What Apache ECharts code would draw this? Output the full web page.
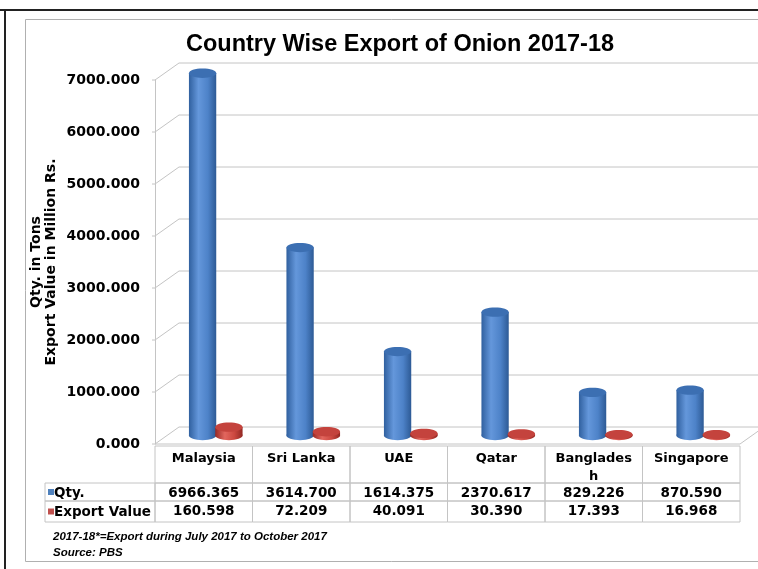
<!DOCTYPE html>
<html>
<head>
<meta charset="utf-8">
<script src="https://cdn.jsdelivr.net/npm/echarts@6/dist/echarts.min.js"></script>
<style>
html,body{margin:0;padding:0;background:#fff;}
#chart{width:758px;height:569px;}
</style>
</head>
<body>
<div id="chart"></div>
<script>
const categories = ['Malaysia', 'Sri Lanka', 'UAE', 'Qatar', 'Bangladesh', 'Singapore'];
const qty = [6966.365, 3614.700, 1614.375, 2370.617, 829.226, 870.590];
const exportValue = [160.598, 72.209, 40.091, 30.390, 17.393, 16.968];
const seriesNames = ['Qty.', 'Export Value'];
const yTicks = [0, 1000, 2000, 3000, 4000, 5000, 6000, 7000];
const titleText = 'Country Wise Export of Onion 2017-18';
const yAxisTitle = 'Qty. in Tons\nExport Value in Million Rs.';
const footnotes = ['2017-18*=Export during July 2017 to October 2017', 'Source: PBS'];

const FONT = 'DejaVu Sans';
const DX = 24, DY = -17; // 3D depth offset
const GRID_COLOR = '#c4c4c4';

const palettes = [
  {body: ['#30609f', '#6497db', '#4d82c8', '#2d5a95'], top: '#3c6fb2', legend: '#4f81bd'},
  {body: ['#982a25', '#e2665e', '#cc4840', '#922823'], top: '#c4433d', legend: '#c0504d'}
];

function cylinderItem(k) {
  return function (params, api) {
    const i = api.value(0);
    const v = api.value(1);
    const top = api.coord([i, v]);
    const base = api.coord([i, 0]);
    const band = api.size([1, 0])[0];
    const w = band * 0.28;
    const cx = top[0] + DX / 2 + (k === 0 ? -0.135 : 0.135) * band;
    const ty = top[1] + DY / 2;
    const by = base[1] + DY / 2;
    const ry = w * 0.17;
    const p = palettes[k];
    const grad = new echarts.graphic.LinearGradient(0, 0, 1, 0, [
      {offset: 0, color: p.body[0]},
      {offset: 0.35, color: p.body[1]},
      {offset: 0.7, color: p.body[2]},
      {offset: 1, color: p.body[3]}
    ]);
    return {
      type: 'group',
      children: [
        {type: 'ellipse', shape: {cx: cx, cy: by, rx: w / 2, ry: ry}, style: {fill: grad}},
        {type: 'rect', shape: {x: cx - w / 2, y: ty, width: w, height: Math.max(0, by - ty)}, style: {fill: grad}},
        {type: 'ellipse', shape: {cx: cx, cy: ty, rx: w / 2, ry: ry}, style: {fill: p.top}}
      ]
    };
  };
}

function wallItem(params, api) {
  const v = api.value(0);
  const cs = params.coordSys;
  const y = api.coord([0, v])[1];
  const children = [
    {type: 'polyline', shape: {points: [[cs.x - 3, y], [cs.x, y], [cs.x + DX, y + DY], [cs.x + cs.width + DX, y + DY]]},
     style: {stroke: GRID_COLOR, lineWidth: 1, fill: null}}
  ];
  if (v === 0) {
    children.push({type: 'polyline', shape: {points: [[cs.x, y], [cs.x + cs.width, y], [cs.x + cs.width + DX, y + DY]]},
      style: {stroke: GRID_COLOR, lineWidth: 1, fill: null}});
  }
  return {type: 'group', children: children};
}

function tableItem(params, api) {
  const i = api.value(0);
  const cs = params.coordSys;
  const center = api.coord([i, 0])[0];
  const band = api.size([1, 0])[0];
  const x0 = center - band / 2;
  const h1 = 37, h2 = 18, h3 = cs.height - h1 - h2;
  const y1 = cs.y, y2 = cs.y + h1, y3 = cs.y + h1 + h2;
  const lineStyle = {stroke: GRID_COLOR, lineWidth: 1, fill: null};
  const txt = {fill: '#000', fontFamily: FONT, fontWeight: 'bold', fontSize: 13.5, align: 'center', verticalAlign: 'middle'};
  const children = [
    {type: 'rect', shape: {x: x0, y: y1, width: band, height: h1}, style: lineStyle},
    {type: 'rect', shape: {x: x0, y: y2, width: band, height: h2}, style: lineStyle},
    {type: 'rect', shape: {x: x0, y: y3, width: band, height: h3}, style: lineStyle},
    {type: 'text', x: center, y: y1 + 4, style: Object.assign({}, txt, {text: categories[i], fontSize: 13, verticalAlign: 'top', width: band - 14, overflow: 'breakAll', lineHeight: 18})},
    {type: 'text', x: center, y: y2 + h2 / 2 + 1, style: Object.assign({}, txt, {text: qty[i].toFixed(3)})},
    {type: 'text', x: center, y: y3 + h3 / 2, style: Object.assign({}, txt, {text: exportValue[i].toFixed(3)})}
  ];
  if (i === 0) {
    const lw = 110;
    const rows = [[y2, h2], [y3, h3]];
    rows.forEach(function (r, k) {
      children.push({type: 'rect', shape: {x: x0 - lw, y: r[0], width: lw, height: r[1]}, style: lineStyle});
      children.push({type: 'rect', shape: {x: x0 - lw + 3, y: r[0] + r[1] / 2 - 3, width: 6, height: 6}, style: {fill: palettes[k].legend}});
      children.push({type: 'text', x: x0 - lw + 9, y: r[0] + r[1] / 2 + 1,
        style: Object.assign({}, txt, {text: seriesNames[k], align: 'left', fontSize: 13.5})});
    });
  }
  return {type: 'group', children: children};
}

const chart = echarts.init(document.getElementById('chart'), null, {renderer: 'canvas'});
chart.setOption({
  backgroundColor: '#fff',
  animation: false,
  title: {
    text: titleText, left: 181, top: 28,
    textStyle: {fontFamily: 'Liberation Sans', fontWeight: 'bold', fontSize: 23.5, color: '#000'}
  },
  graphic: [
    {type: 'line', shape: {x1: 0, y1: 10, x2: 758, y2: 10}, style: {stroke: '#222', lineWidth: 2}, z: 100},
    {type: 'line', shape: {x1: 5, y1: 10, x2: 5, y2: 569}, style: {stroke: '#222', lineWidth: 2}, z: 100},
    {type: 'polyline', shape: {points: [[758, 19.5], [25.5, 19.5], [25.5, 561.5], [758, 561.5]]}, style: {stroke: '#b0b0b0', lineWidth: 1, fill: null}, z: 100},
    {type: 'text', left: 53, top: 531, style: {text: footnotes[0], font: 'italic bold 11.5px "Liberation Sans"', fill: '#000'}},
    {type: 'text', left: 53, top: 547, style: {text: footnotes[1], font: 'italic bold 11.5px "Liberation Sans"', fill: '#000'}}
  ],
  grid: [
    {left: 155, right: 18, top: 80, bottom: 125},
    {left: 155, right: 18, top: 446, bottom: 47}
  ],
  xAxis: [
    {type: 'category', gridIndex: 0, data: categories, axisLine: {show: false}, axisTick: {show: false}, axisLabel: {show: false}},
    {type: 'category', gridIndex: 1, data: categories, show: false}
  ],
  yAxis: [
    {type: 'value', gridIndex: 0, min: 0, max: 7000, interval: 1000,
     axisLine: {show: true, lineStyle: {color: GRID_COLOR}}, axisTick: {show: false}, splitLine: {show: false},
     axisLabel: {formatter: function (v) { return v.toFixed(3); }, fontFamily: FONT, fontWeight: 'bold', fontSize: 14, color: '#000', margin: 15},
     name: yAxisTitle, nameLocation: 'middle', nameRotate: 90, nameGap: 96, nameMoveOverlap: false,
     nameTextStyle: {fontFamily: FONT, fontWeight: 'bold', fontSize: 14, color: '#000', lineHeight: 15}},
    {type: 'value', gridIndex: 1, min: 0, max: 1, show: false}
  ],
  series: [
    {type: 'custom', name: 'wall', xAxisIndex: 0, yAxisIndex: 0, renderItem: wallItem, data: yTicks.map(function (t) { return [t]; }), z: 1, silent: true},
    {type: 'custom', name: seriesNames[0], xAxisIndex: 0, yAxisIndex: 0, renderItem: cylinderItem(0), data: qty.map(function (v, i) { return [i, v]; }), z: 3},
    {type: 'custom', name: seriesNames[1], xAxisIndex: 0, yAxisIndex: 0, renderItem: cylinderItem(1), data: exportValue.map(function (v, i) { return [i, v]; }), z: 4},
    {type: 'custom', name: 'table', xAxisIndex: 1, yAxisIndex: 1, renderItem: tableItem, data: categories.map(function (c, i) { return [i]; }), z: 2, silent: true}
  ]
});
</script>
</body>
</html>
